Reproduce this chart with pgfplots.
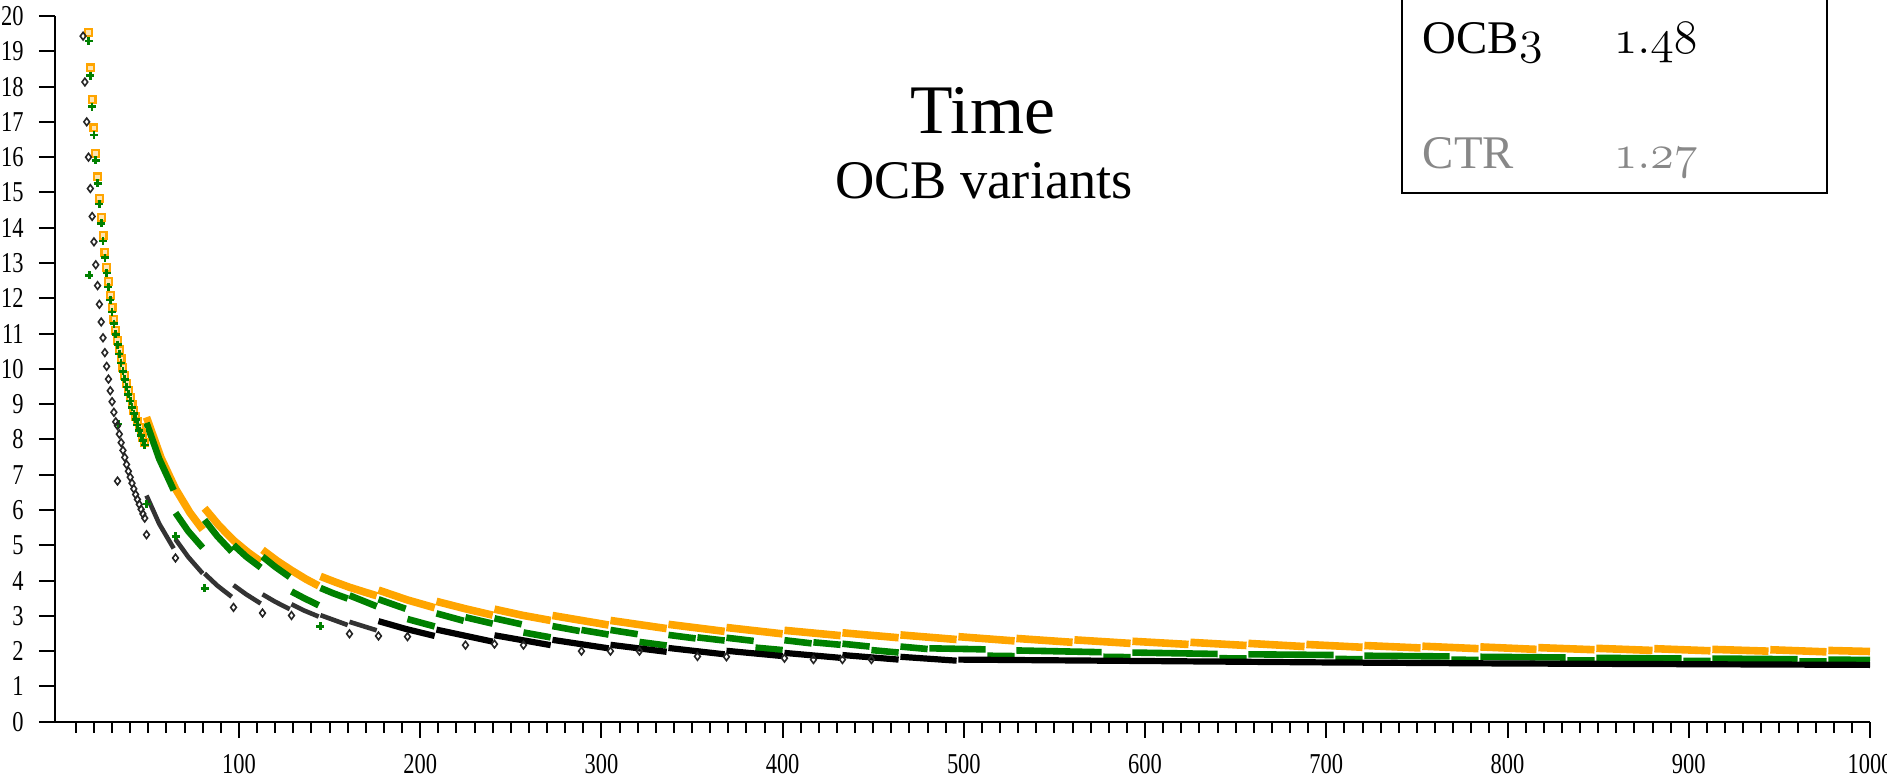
\documentclass[border=0pt]{standalone}
\usepackage{fontspec}
\setmainfont{Liberation Serif}
\newfontfamily\tickfont{Liberation Serif}[FakeStretch=0.78]
\usepackage{pgfplots}
\pgfplotsset{compat=1.18}
\definecolor{ocbor}{HTML}{FFA500}
\definecolor{ocbgr}{HTML}{008000}
\definecolor{ctrgray}{HTML}{888888}
\begin{document}
\begin{tikzpicture}
\begin{axis}[
  at={(0pt,0pt)}, anchor=south west,
  scale only axis, width=453.75pt, height=176.425pt,
  xmin=-1.5, xmax=1000, ymin=0, ymax=20,
  axis x line*=bottom, axis y line*=left,
  axis line style={line width=0.55pt, black},
  tick align=outside,
  major tick length=4pt, minor tick length=2.75pt,
  every tick/.style={black, line width=0.5pt},
  xtick={100,200,...,1000},
  xticklabels={100,200,300,400,500,600,700,800,900,1000},
  minor xtick={10,20,...,990},
  ytick={0,1,...,20},
  yticklabels={0,1,2,3,4,5,6,7,8,9,10,11,12,13,14,15,16,17,18,19,20},
  tick label style={font=\tickfont\fontsize{7.2}{8}\selectfont},
  yticklabel style={xshift=-0.3pt},
  xticklabel style={yshift=-0.6pt},
  clip=false,
  unbounded coords=jump,
]
% ---------- orange (top series)
\addplot[only marks, mark=square*, mark size=0.85pt, mark options={draw=ocbor, fill=ocbor!30, line width=0.55pt}] coordinates {
(17,19.53)(18,18.53)(19,17.64)(20,16.83)(21,16.10)(22,15.44)(23,14.84)(24,14.29)(25,13.78)(26,13.31)(27,12.87)(28,12.47)(29,12.09)(30,11.74)(31,11.41)(32,11.10)(33,10.81)(34,10.54)(35,10.28)(36,10.04)(37,9.81)(38,9.59)(39,9.39)(40,9.19)(41,9.00)(42,8.83)(43,8.66)(44,8.50)(45,8.34)(46,8.20)(47,8.05)(48,7.92)
};
\addplot[no markers, draw=ocbor, line width=1.9pt, line cap=butt] coordinates {
(49,8.63)(57,7.48)(65,6.60)(73,5.92)(80,5.44)(80.5,nan)
(81,6.05)(89,5.56)(97,5.14)(105,4.80)(112,4.54)(112.5,nan)
(113,4.87)(121,4.56)(129,4.29)(137,4.04)(144,3.85)(144.5,nan)
(145,4.12)(153,3.96)(161,3.81)(169,3.68)(176,3.57)(176.5,nan)
(177,3.73)(193,3.45)(208,3.23)(208.5,nan)
(209,3.41)(225,3.20)(240,3.02)(240.5,nan)
(241,3.19)(256,3.02)(272,2.87)(272.5,nan)
(273,3.01)(304,2.74)(304.5,nan)
(305,2.87)(336,2.64)(336.5,nan)
(337,2.76)(368,2.56)(368.5,nan)
(369,2.67)(400,2.49)(400.5,nan)
(401,2.59)(432,2.44)(432.5,nan)
(433,2.52)(464,2.38)(464.5,nan)
(465,2.46)(496,2.33)(496.5,nan)
(497,2.41)(528,2.29)(528.5,nan)
(529,2.36)(560,2.25)(560.5,nan)
(561,2.32)(592,2.22)(592.5,nan)
(593,2.28)(624,2.19)(624.5,nan)
(625,2.25)(656,2.16)(656.5,nan)
(657,2.22)(688,2.13)(688.5,nan)
(689,2.19)(720,2.11)(720.5,nan)
(721,2.16)(752,2.09)(752.5,nan)
(753,2.14)(784,2.07)(784.5,nan)
(785,2.12)(816,2.05)(816.5,nan)
(817,2.10)(848,2.04)(848.5,nan)
(849,2.08)(880,2.02)(880.5,nan)
(881,2.07)(912,2.01)(912.5,nan)
(913,2.05)(944,2.00)(944.5,nan)
(945,2.04)(976,1.98)(976.5,nan)
(977,2.02)(1000,1.99)
};
% ---------- green (middle series)
\addplot[only marks, mark=+, mark size=1.0pt, mark options={draw=ocbgr, line width=0.65pt}] coordinates {
(17,19.29)(18,18.31)(19,17.43)(20,16.63)(21,15.91)(22,15.26)(23,14.67)(24,14.12)(25,13.62)(26,13.15)(27,12.72)(28,12.32)(29,11.95)(30,11.61)(31,11.28)(32,10.98)(33,10.69)(34,10.42)(35,10.17)(36,9.93)(37,9.70)(38,9.49)(39,9.28)(40,9.09)(41,8.91)(42,8.73)(43,8.57)(44,8.41)(45,8.25)(46,8.11)(47,7.97)(48,7.84)
(17.5,12.65)(33.5,8.44)(49,6.17)(65,5.25)(81,3.78)(145,2.70)
};
\addplot[no markers, draw=ocbgr, line width=1.65pt, line cap=butt] coordinates {
(49,8.47)(56,7.45)(64,6.56)(64.5,nan)
(65,5.92)(72,5.40)(80,4.93)(80.5,nan)
(81,5.72)(88,5.26)(96,4.82)(96.5,nan)
(97,5.01)(104,4.68)(112,4.37)(112.5,nan)
(113,4.68)(120,4.39)(128,4.10)(128.5,nan)
(129,3.69)(136,3.50)(144,3.30)(144.5,nan)
(145,3.79)(152,3.64)(160,3.49)(160.5,nan)
(161,3.58)(176,3.27)(176.5,nan)
(177,3.47)(192,3.20)(192.5,nan)
(193,2.91)(208,2.70)(208.5,nan)
(209,3.07)(224,2.86)(224.5,nan)
(225,2.96)(240,2.78)(240.5,nan)
(241,2.93)(256,2.76)(256.5,nan)
(257,2.53)(272,2.39)(272.5,nan)
(273,2.71)(288,2.57)(288.5,nan)
(289,2.60)(304,2.47)(304.5,nan)
(305,2.60)(320,2.48)(320.5,nan)
(321,2.26)(336,2.16)(336.5,nan)
(337,2.46)(352,2.36)(352.5,nan)
(353,2.39)(368,2.30)(368.5,nan)
(369,2.38)(384,2.29)(384.5,nan)
(385,2.10)(400,2.03)(400.5,nan)
(401,2.31)(416,2.22)(416.5,nan)
(417,2.25)(432,2.18)(432.5,nan)
(433,2.21)(448,2.13)(448.5,nan)
(449,2.03)(464,1.96)(464.5,nan)
(465,2.13)(480,2.06)(480.5,nan)
(481,2.08)(512,2.05)(512.5,nan)
(513,1.87)(528,1.86)(528.5,nan)
(529,2.02)(576,1.97)(576.5,nan)
(577,1.84)(592,1.83)(592.5,nan)
(593,1.96)(640,1.92)(640.5,nan)
(641,1.80)(656,1.79)(656.5,nan)
(657,1.91)(704,1.89)(704.5,nan)
(705,1.78)(720,1.77)(720.5,nan)
(721,1.87)(768,1.85)(768.5,nan)
(769,1.76)(784,1.75)(784.5,nan)
(785,1.84)(832,1.82)(832.5,nan)
(833,1.74)(848,1.74)(848.5,nan)
(849,1.81)(896,1.79)(896.5,nan)
(897,1.72)(912,1.72)(912.5,nan)
(913,1.79)(960,1.77)(960.5,nan)
(961,1.71)(976,1.71)(976.5,nan)
(977,1.76)(1000,1.75)
};
% ---------- black (lowest series)
\addplot[only marks, mark=diamond, mark size=0.95pt, mark options={draw=black!85, line width=0.4pt}] coordinates {
(14,19.43)(15,18.13)(16,17.00)(17,16.00)(18,15.11)(19,14.32)(20,13.60)(21,12.95)(22,12.36)(23,11.83)(24,11.33)(25,10.88)(26,10.46)(27,10.07)(28,9.71)(29,9.38)(30,9.07)(31,8.77)(32,8.50)(33,8.39)(34,8.15)(35,7.91)(36,7.69)(37,7.49)(38,7.29)(39,7.10)(40,6.93)(41,6.76)(42,6.60)(43,6.44)(44,6.30)(45,6.16)(46,6.02)(47,5.89)(48,5.77)
(33,6.82)(49,5.30)(65,4.64)(97,3.24)(113,3.08)(129,3.01)(161,2.49)(177,2.43)(193,2.41)(225,2.17)(241,2.20)(257,2.17)(289,2.00)(305,2.00)(321,2.00)(353,1.85)(369,1.84)(401,1.80)(417,1.76)(433,1.76)(449,1.76)
};
\addplot[no markers, draw=black!80, line width=1.15pt, line cap=butt] coordinates {
(49,6.41)(56,5.61)(64,4.91)(64.5,nan)
(65,5.17)(72,4.67)(80,4.20)(80.5,nan)
(81,4.20)(88,3.86)(96,3.54)(96.5,nan)
(97,3.87)(104,3.61)(112,3.35)(112.5,nan)
(113,3.61)(120,3.40)(128,3.19)(128.5,nan)
(129,3.33)(136,3.15)(144,2.98)(144.5,nan)
(145,3.02)(160,2.74)(160.5,nan)
(161,2.83)(176,2.59)
};
\addplot[no markers, draw=black, line width=1.55pt, line cap=butt] coordinates {
(177,2.85)(192,2.63)(208,2.43)(208.5,nan)
(209,2.61)(240,2.27)(240.5,nan)
(241,2.45)(272,2.17)(272.5,nan)
(273,2.32)(304,2.08)(304.5,nan)
(305,2.18)(336,1.98)(336.5,nan)
(337,2.09)(368,1.91)(368.5,nan)
(369,2.01)(400,1.86)(400.5,nan)
(401,1.95)(432,1.81)(432.5,nan)
(433,1.89)(464,1.76)(464.5,nan)
(465,1.84)(496,1.73)(496.5,nan)
(497,1.76)(550,1.74)(600,1.72)(650,1.70)(700,1.68)(750,1.665)(800,1.65)(850,1.64)(900,1.63)(950,1.62)(1000,1.61)
};
\end{axis}
% titles
\node[anchor=base, inner sep=0pt, font=\fontsize{17.4}{20}\selectfont] at (232pt,147.1pt) {Time};
\node[anchor=base, inner sep=0pt, font=\fontsize{13.6}{16}\selectfont] at (232.25pt,130.7pt) {OCB variants};
% box
\draw[line width=0.45pt] (336.75pt,190pt) -- (336.75pt,132.2pt) -- (443pt,132.2pt) -- (443pt,190pt);
\node[anchor=base west, inner sep=0pt, font=\fontsize{11.7}{14}\selectfont] at (341.75pt,167.1pt) {OCB$\mathnormal{3}$};
\node[anchor=base west, inner sep=0pt, font=\fontsize{11.7}{14}\selectfont] at (389.5pt,167.1pt) {$\mathnormal{1.48}$};
\node[anchor=base west, inner sep=0pt, text=ctrgray, font=\fontsize{11.7}{14}\selectfont] at (341.75pt,138.35pt) {CTR};
\node[anchor=base west, inner sep=0pt, text=ctrgray, font=\fontsize{11.7}{14}\selectfont] at (389.5pt,138.35pt) {$\mathnormal{1.27}$};
\pgfresetboundingbox
\useasboundingbox (-13.75pt,-13.325pt) rectangle (458pt,180.425pt);
\end{tikzpicture}
\end{document}
